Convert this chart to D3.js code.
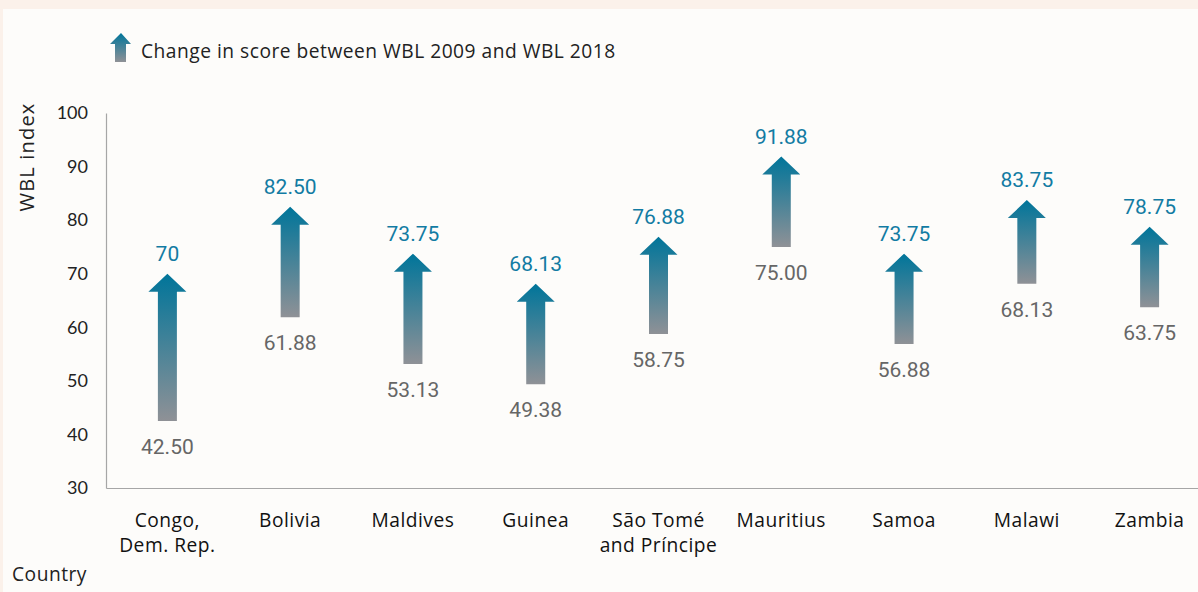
<!DOCTYPE html>
<html>
<head>
<meta charset="utf-8">
<script src="https://cdn.jsdelivr.net/npm/d3@7"></script>
<style>
  body { margin: 0; background: #fbf1ea; }
  svg { display: block; }
  .lbl { font-family: "Open Sans", sans-serif; font-size: 19.2px; letter-spacing: 0.5px; fill: #222; }
</style>
</head>
<body>
<script>
'use strict';

const countries = ["Congo,|Dem. Rep.", "Bolivia", "Maldives", "Guinea", "São Tomé|and Príncipe", "Mauritius", "Samoa", "Malawi", "Zambia"]
const score2009 = [42.50, 61.88, 53.13, 49.38, 58.75, 75.00, 56.88, 68.13, 63.75]
const score2018 = [70, 82.50, 73.75, 68.13, 76.88, 91.88, 73.75, 83.75, 78.75]
const label2018 = ["70", "82.50", "73.75", "68.13", "76.88", "91.88", "73.75", "83.75", "78.75"]
const yTicks = [30, 40, 50, 60, 70, 80, 90, 100]

const m = { width: 1198, height: 592 }

const rows = countries.map((c, i) => ({ country: c, from: score2009[i], to: score2018[i], lab: label2018[i] }))

const svg = d3.select('body').append('svg')
  .attr('width', m.width)
  .attr('height', m.height)

// page background with thin peach border top/left
svg.append('rect').attr('width', m.width).attr('height', m.height).attr('fill', '#fbf1ea')
svg.append('rect').attr('x', 3).attr('y', 9).attr('width', m.width).attr('height', m.height)
  .attr('fill', '#fdfcfa')

const defs = svg.append('defs')
const grad = defs.append('linearGradient')
  .attr('id', 'arrowGrad')
  .attr('x1', 0).attr('y1', 0).attr('x2', 0).attr('y2', 1)
grad.append('stop').attr('offset', '0%').attr('stop-color', '#00759a')
grad.append('stop').attr('offset', '100%').attr('stop-color', '#8f9196')

const xScale = d3.scaleBand()
  .domain(countries)
  .range([106, 1211])

const yScale = d3.scaleLinear()
  .domain([30, 100])
  .range([488, 113])

// axes
const yAxis = d3.axisLeft(yScale).tickValues(yTicks).tickSize(0).tickPadding(18)
svg.append('g')
  .attr('transform', 'translate(106,0)')
  .call(yAxis)
  .call(g => g.select('.domain').attr('stroke', '#a6a6a6').attr('stroke-width', 1.2))
  .call(g => g.selectAll('text').style('font-family', 'Lato, sans-serif').style('font-size', '18px').attr('fill', '#222'))

const xAxis = d3.axisBottom(xScale).tickSize(0).tickFormat('')
svg.append('g')
  .attr('transform', 'translate(0,488)')
  .call(xAxis)
  .call(g => g.select('.domain').attr('stroke', '#a6a6a6').attr('stroke-width', 1.2))

// x labels
const xl = svg.append('g')
countries.forEach(c => {
  const cx = xScale(c) + xScale.bandwidth() / 2
  const t = xl.append('text')
    .attr('class', 'lbl')
    .attr('x', cx)
    .attr('y', 527)
    .attr('text-anchor', 'middle')
    .style('fill', '#111')
  c.split('|').forEach((line, k) => {
    t.append('tspan').attr('x', cx).attr('dy', k == 0 ? 0 : 25).text(line)
  })
})

function arrowPath(cx, yTop, yBot) {
  const sw = 9.5, hw = 19, hh = 18
  return 'M' + cx + ',' + yTop +
    'L' + (cx + hw) + ',' + (yTop + hh) +
    'L' + (cx + sw) + ',' + (yTop + hh) +
    'L' + (cx + sw) + ',' + yBot +
    'L' + (cx - sw) + ',' + yBot +
    'L' + (cx - sw) + ',' + (yTop + hh) +
    'L' + (cx - hw) + ',' + (yTop + hh) + 'Z'
}

const arrows = svg.selectAll('.arrow')
  .data(rows)
  .enter().append('g')
  .attr('class', 'arrow')

arrows.append('path')
  .attr('d', d => arrowPath(xScale(d.country) + xScale.bandwidth() / 2, yScale(d.to), yScale(d.from)))
  .attr('fill', 'url(#arrowGrad)')

arrows.append('text')
  .attr('x', d => xScale(d.country) + xScale.bandwidth() / 2)
  .attr('y', d => yScale(d.to) - 13)
  .attr('text-anchor', 'middle')
  .style('font-family', 'Roboto, sans-serif')
  .style('font-size', '21px')
  .attr('fill', '#127ba3')
  .text(d => d.lab)

arrows.append('text')
  .attr('x', d => xScale(d.country) + xScale.bandwidth() / 2)
  .attr('y', d => yScale(d.from) + 33)
  .attr('text-anchor', 'middle')
  .style('font-family', 'Roboto, sans-serif')
  .style('font-size', '21px')
  .attr('fill', '#666')
  .text(d => d.from.toFixed(2))

// legend
svg.append('path')
  .attr('d', 'M121,33L131,44L126,44L126,62L115,62L115,44L110,44Z')
  .attr('fill', 'url(#arrowGrad)')

svg.append('text')
  .attr('class', 'lbl')
  .attr('x', 141)
  .attr('y', 58)
  .text('Change in score between WBL 2009 and WBL 2018')

// axis titles
svg.append('text')
  .attr('class', 'lbl')
  .attr('transform', 'translate(34, 157)rotate(-90)')
  .attr('text-anchor', 'middle')
  .style('font-size', '20px')
  .style('letter-spacing', '1.2px')
  .text('WBL index')

svg.append('text')
  .attr('class', 'lbl')
  .attr('x', 12)
  .attr('y', 581)
  .text('Country')
</script>
</body>
</html>
